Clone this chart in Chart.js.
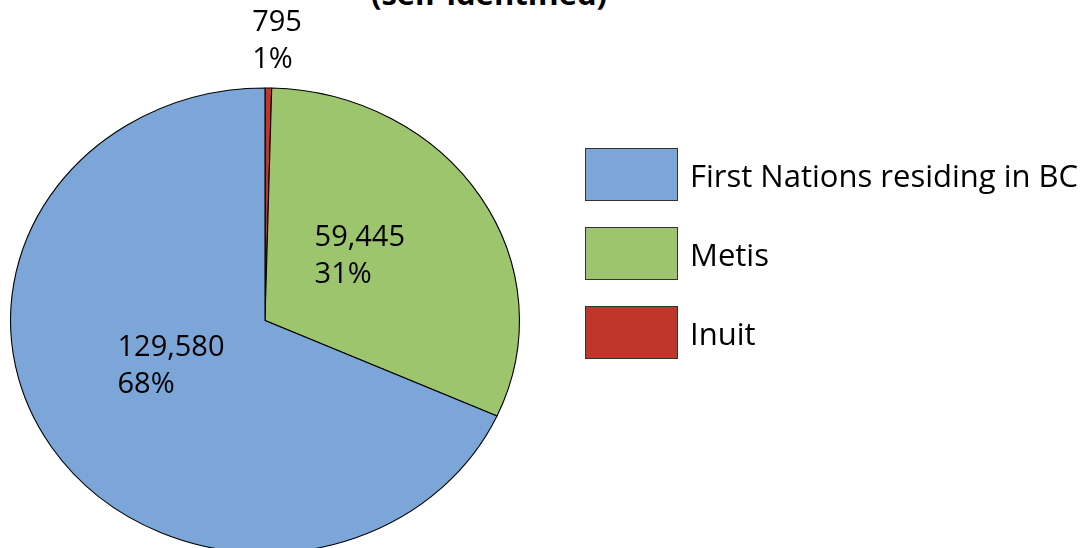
<!DOCTYPE html>
<html lang="en">
<head>
    <meta charset="UTF-8">
    <title>Aboriginal population (self-identified)</title>
    <script src="https://cdn.jsdelivr.net/npm/chart.js"></script>
    <style>
        body {
            margin: 0;
            padding: 0;
            background: #ffffff;
            overflow: hidden;
            font-family: "Open Sans", Arial, sans-serif;
            color: #000000;
        }

        .chart-wrap {
            position: absolute;
            left: 0;
            top: 0;
            width: 1087px;
            height: 560px;
        }

        .title {
            position: absolute;
            left: 489px;
            top: -27px;
            transform: translateX(-50%);
            font-weight: bold;
            font-size: 31px;
            line-height: 40px;
            white-space: nowrap;
        }

        .legend {
            position: absolute;
            left: 585px;
            top: 148px;
        }

        .legend-item {
            display: flex;
            align-items: center;
            height: 53px;
            margin-bottom: 26px;
        }

        .legend-item span {
            display: inline-block;
            width: 91px;
            height: 51px;
            border: 1px solid #333333;
            margin-right: 12px;
        }

        .legend-item label {
            font-size: 31px;
            white-space: nowrap;
        }
    </style>
</head>
<body>
    <div class="title">(self-identified)</div>
    <div class="chart-wrap">
        <canvas id="pieChart"></canvas>
    </div>
    <div class="legend" id="legend"></div>

    <script>
        // Data (clockwise from 12 o'clock, as drawn)
        const categories = ['Inuit', 'Metis', 'First Nations residing in BC'];
        const populations = [795, 59445, 129580];
        const sharePct = [1, 31, 68];
        const sliceColors = ['#c0362a', '#9cc56e', '#7ba6d7'];

        // legend lists them the other way round
        const legendOrder = [2, 1, 0];

        // the pie is stretched a bit wider than tall
        const stretchX = 255 / 233;

        const legendEl = document.getElementById('legend');
        legendOrder.forEach(i => {
            const item = document.createElement('div');
            item.className = 'legend-item';
            item.innerHTML = '<span style="background:' + sliceColors[i] + '"></span><label>' + categories[i] + '</label>';
            legendEl.appendChild(item);
        });

        const ellipsePlugin = {
            id: 'ellipse',
            beforeDatasetsDraw(chart) {
                const arc = chart.getDatasetMeta(0).data[0];
                const ctx = chart.ctx;
                ctx.save();
                ctx.translate(arc.x, arc.y);
                ctx.scale(stretchX, 1);
                ctx.translate(-arc.x, -arc.y);
            },
            afterDatasetsDraw(chart) {
                const ctx = chart.ctx;
                ctx.restore();

                // value + percent labels
                ctx.save();
                ctx.fillStyle = '#000000';
                ctx.font = '29px "Open Sans", Arial, sans-serif';
                ctx.textBaseline = 'middle';
                ctx.textAlign = 'left';
                const lineH = 37;
                chart.getDatasetMeta(0).data.forEach((arc, i) => {
                    const mid = (arc.startAngle + arc.endAngle) / 2;
                    const small = sharePct[i] < 5;
                    const frac = small ? 1.2 : 0.44;
                    const px = arc.x + Math.cos(mid) * arc.outerRadius * frac * stretchX;
                    const py = arc.y + Math.sin(mid) * arc.outerRadius * frac - (small ? 0 : 10);
                    const lines = [populations[i].toLocaleString('en-US'), sharePct[i] + '%'];
                    const w = Math.max(...lines.map(t => ctx.measureText(t).width));
                    const left = px - w / 2 + (small ? 8 : 0);
                    lines.forEach((t, k) => {
                        ctx.fillText(t, left, py + (k - 0.5) * lineH);
                    });
                });
                ctx.restore();
            }
        };

        const ctx = document.getElementById('pieChart').getContext('2d');
        const pieChart = new Chart(ctx, {
            type: 'pie',
            data: {
                labels: categories,
                datasets: [{
                    data: populations,
                    backgroundColor: sliceColors,
                    borderColor: '#000000',
                    borderWidth: 1
                }]
            },
            options: {
                responsive: true,
                maintainAspectRatio: false,
                animation: false,
                layout: {
                    padding: { top: 87, bottom: 6, left: 32, right: 589 }
                },
                plugins: {
                    legend: { display: false },
                    tooltip: { enabled: false }
                }
            },
            plugins: [ellipsePlugin]
        });
    </script>
</body>
</html>
